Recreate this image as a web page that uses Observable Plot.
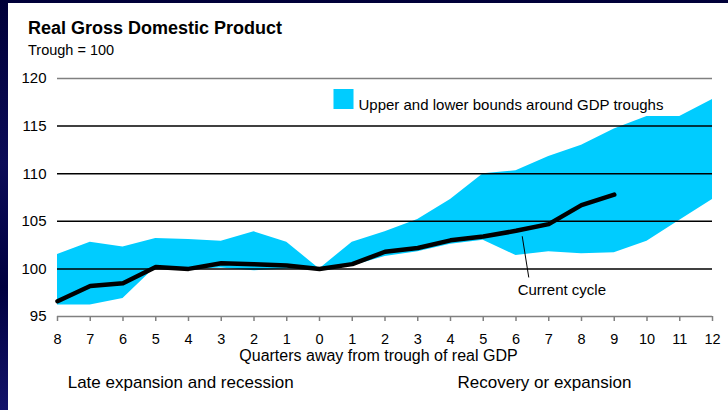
<!DOCTYPE html>
<html>
<head>
<meta charset="utf-8">
<script src="https://cdn.jsdelivr.net/npm/d3@7"></script>
<script src="https://cdn.jsdelivr.net/npm/@observablehq/plot@0.6"></script>
<style>
  html, body { margin: 0; padding: 0; }
  body { width: 728px; height: 410px; overflow: hidden; position: relative;
         background: linear-gradient(180deg, #000038 0%, #0c0c58 40%, #000040 70%, #14146a 100%);
         font-family: "Liberation Sans", Arial, sans-serif; }
  #panel { position: absolute; left: 8px; top: 3px; width: 720px; height: 407px; background: #fff; }
  #title { position: absolute; left: 20px; top: 15px; font-size: 18px; font-weight: bold; color: #000; line-height: 20px; white-space: nowrap; }
  #subtitle { position: absolute; left: 20px; top: 39px; font-size: 14.5px; color: #000; line-height: 16px; white-space: nowrap; }
  #chart { position: absolute; left: 0; top: 57px; }
</style>
</head>
<body>
<div id="panel">
  <div id="title">Real Gross Domestic Product</div>
  <div id="subtitle">Trough = 100</div>
  <div id="chart"></div>
</div>
<script>
// Quarters relative to GDP trough (negative = before trough)
const quarters = [-8, -7, -6, -5, -4, -3, -2, -1, 0, 1, 2, 3, 4, 5, 6, 7, 8, 9, 10, 11, 12];
const upperBound = [101.5, 102.8, 102.3, 103.2, 103.1, 102.9, 103.9, 102.8, 100.0, 102.8, 103.9, 105.2, 107.3, 110.0, 110.3, 111.8, 113.0, 114.7, 116.0, 116.0, 117.8];
const lowerBound = [96.2, 96.2, 96.9, 100.2, 99.9, 100.1, 99.8, 100.0, 100.0, 100.3, 101.3, 101.8, 102.6, 103.0, 101.4, 101.8, 101.6, 101.7, 102.9, 105.1, 107.3];
const currentCycle = [96.6, 98.2, 98.5, 100.2, 100.0, 100.6, 100.5, 100.35, 100.0, 100.5, 101.8, 102.2, 103.0, 103.4, 104.0, 104.7, 106.7, 107.8];
const yTicks = [95, 100, 105, 110, 115, 120];
const blackGrid = [100, 105, 110, 115];
const grayGrid = [120];

const band = quarters.map((q, i) => ({q, lo: lowerBound[i], hi: upperBound[i]}));
const current = currentCycle.map((v, i) => ({q: quarters[i], v}));

const legendLabel = "Upper and lower bounds around GDP troughs";
const xLabel = "Quarters away from trough of real GDP";
const leftLabel = "Late expansion and recession";
const rightLabel = "Recovery or expansion";
const currentLabel = "Current cycle";

const CYAN = "#00CCFF";

const chart = Plot.plot({
  width: 720,
  height: 350,
  marginLeft: 49,
  marginRight: 16,
  marginTop: 18,
  marginBottom: 94,
  style: { fontFamily: "'Liberation Sans', Arial, sans-serif", fontSize: "15px", color: "#000", background: "transparent", overflow: "visible" },
  x: { domain: [-8, 12] },
  y: { domain: [95, 120] },
  marks: [
    Plot.areaY(band, { x: "q", y1: "lo", y2: "hi", fill: CYAN, curve: "linear" }),
    Plot.ruleY(blackGrid, { stroke: "#000", strokeWidth: 1.5 }),
    Plot.ruleY(grayGrid, { stroke: "#808080", strokeWidth: 1.5 }),
    Plot.ruleY([95], { stroke: "#808080", strokeWidth: 1.5 }),
    Plot.axisY({ ticks: yTicks, tickSize: 0, tickPadding: 11, label: null, fontSize: 15 }),
    Plot.axisX({ ticks: quarters, tickFormat: d => Math.abs(d), tickSize: 5, tickPadding: 12, stroke: "#808080", strokeWidth: 1.5, fill: "#000", label: null, fontSize: 14.5 }),
    Plot.line(current, { x: "q", y: "v", stroke: "#000", strokeWidth: 4.5, strokeLinejoin: "round", strokeLinecap: "round" }),
    // annotation for current cycle
    Plot.link([{x1: 6.19, y1: 103.43, x2: 6.39, y2: 99.1}], { x1: "x1", y1: "y1", x2: "x2", y2: "y2", stroke: "#000", strokeWidth: 1 }),
    Plot.text([currentLabel], { x: [7.4], y: [97.8], text: d => d, fontSize: 15, fill: "#000" }),
    // legend
    Plot.dot([0], { frameAnchor: "top-left", dx: 286, dy: 20.5, symbol: "square", r: 11.3, fill: CYAN, stroke: "none" }),
    Plot.text([legendLabel], { frameAnchor: "top-left", dx: 301, dy: 21, text: d => d, textAnchor: "start", fontSize: 15, fill: "#000" }),
    // bottom labels
    Plot.text([xLabel], { x: [1.8], frameAnchor: "bottom", dy: 44, text: d => d, fontSize: 16, fill: "#000" }),
    Plot.text([leftLabel], { x: [-4.24], frameAnchor: "bottom", dy: 71, text: d => d, fontSize: 17, fill: "#000" }),
    Plot.text([rightLabel], { x: [6.87], frameAnchor: "bottom", dy: 71, text: d => d, fontSize: 17, fill: "#000" })
  ]
});
document.getElementById("chart").appendChild(chart);
</script>
</body>
</html>
